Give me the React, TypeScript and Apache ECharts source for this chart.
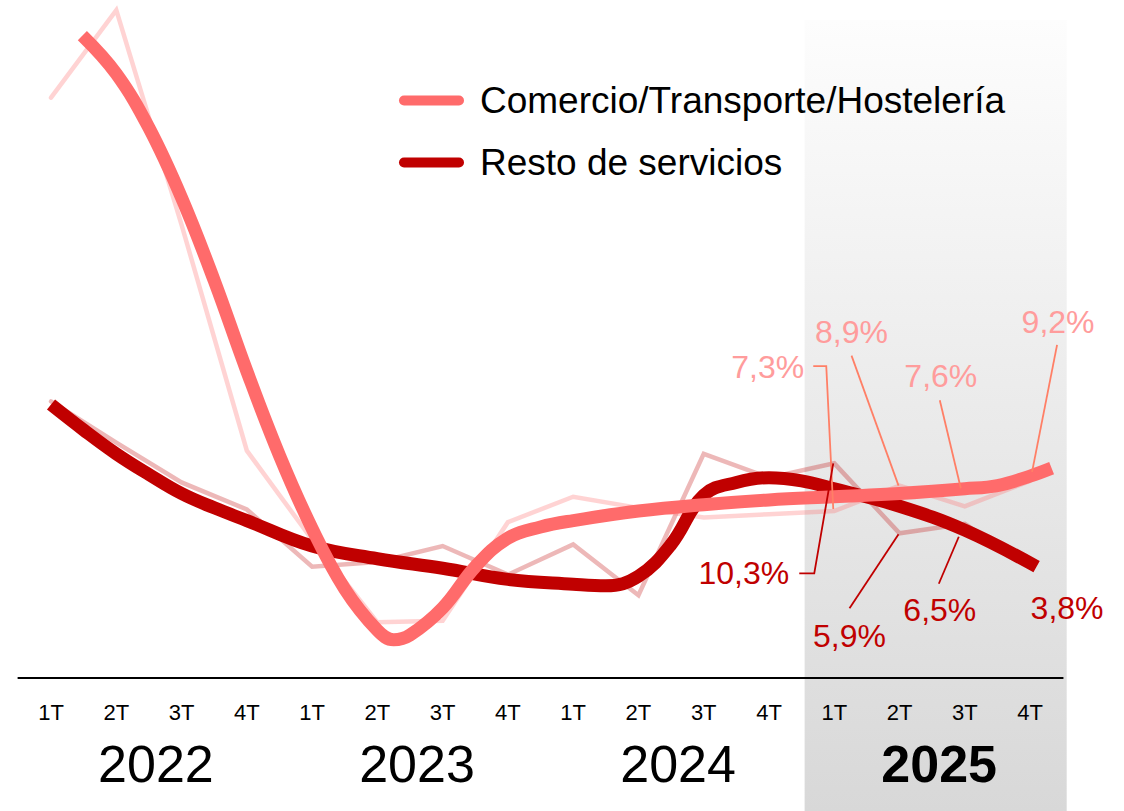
import React, { useEffect, useRef } from 'react';
import * as echarts from 'echarts';

const FONT = "'Liberation Sans', Arial, Helvetica, sans-serif";

// Categories
const quarterLabels = ['1T', '2T', '3T', '4T', '1T', '2T', '3T', '4T', '1T', '2T', '3T', '4T', '1T', '2T', '3T', '4T'];
const yearLabels = ['2022', '2023', '2024', '2025'];
const highlightYearIndex = 3;
const highlightStartQuarter = 12;

// Series names
const comercioName = 'Comercio/Transporte/Hostelería';
const restoName = 'Resto de servicios';

// Quarterly values (thin lines)
const comercioQuarterly = [33.3, 38.8, 25.3, 11.1, 5.5, 0.3, 0.4, 6.6, 8.2, 7.5, 6.9, 7.1, 7.3, 8.9, 7.6, 9.2];
const restoQuarterly = [14.2, 11.6, 9.1, 7.4, 3.8, 4.1, 5.1, 3.3, 5.2, 2.0, 10.9, 9.4, 10.3, 5.9, 6.5, 3.8];

// Trend values (thick lines), x in quarter index units
const comercioTrendX = [0.48, 1, 1.5, 2, 2.5, 3, 3.5, 4, 4.5, 5, 5.25, 5.5, 6, 6.5, 7, 7.5, 8, 9, 10, 11, 12, 13, 14, 14.5, 15, 15.33];
const comercioTrendY = [37.2, 34.8, 31.4, 27.0, 21.8, 16.1, 10.8, 6.2, 2.4, -0.2, -0.8, -0.5, 1.2, 3.8, 5.6, 6.3, 6.7, 7.3, 7.7, 8.0, 8.2, 8.4, 8.7, 8.9, 9.5, 10.0];
const restoTrendX = [0, 0.5, 1, 1.5, 2, 2.5, 3, 4, 5, 6, 7, 8, 8.5, 9, 9.5, 10, 10.5, 11, 11.5, 12, 13, 14, 15.1];
const restoTrendY = [14.0, 12.4, 10.9, 9.6, 8.4, 7.5, 6.7, 5.1, 4.3, 3.7, 3.0, 2.7, 2.6, 3.2, 5.2, 8.3, 9.1, 9.4, 9.2, 8.7, 7.6, 6.1, 3.8];

const fmtPct = (v: number) => v.toFixed(1).replace('.', ',') + '%';

// Label layout (offsets relative to the data point in pixels)
type LabelLayout = { dx: number; dy: number; align: string; line: number[][] | null };
const comercioLabelLayout: LabelLayout[] = [
  { dx: -30, dy: -144, align: 'right', line: [[-21, -145], [-8, -145], [-1, -2]] },
  { dx: -48, dy: -154, align: 'center', line: [[-48, -130], [-1, 0]] },
  { dx: -24, dy: -130, align: 'center', line: [[-25, -106], [-4, -18]] },
  { dx: 28, dy: -159, align: 'center', line: [[27, -136], [2, -9]] },
];
const restoLabelLayout: LabelLayout[] = [
  { dx: -45, dy: 110, align: 'right', line: [[-35, 110], [-20, 110], [-1, 0]] },
  { dx: -50, dy: 103, align: 'center', line: [[-50, 75], [-1, 1]] },
  { dx: -25, dy: 86, align: 'center', line: [[-26, 60], [-6, 13]] },
  { dx: 37, dy: 41, align: 'center', line: null },
];

const COMERCIO_COLOR = '#ff6b6b';
const RESTO_COLOR = '#c00000';

export default function App() {
  const ref = useRef<HTMLDivElement>(null);

  useEffect(() => {
    if (!ref.current) return;
    const chart = echarts.init(ref.current, undefined, { renderer: 'svg' });

    const option: any = {
      animation: false,
      backgroundColor: '#ffffff',
      grid: { left: 18.4, right: 61.3, top: 0, bottom: 133, containLabel: false },
      legend: {
        data: [{ name: comercioName }, { name: restoName }],
        orient: 'vertical',
        left: 399,
        top: 82,
        padding: 0,
        itemWidth: 65,
        itemHeight: 10,
        itemGap: 25,
        icon: 'path://M5 0H60A5 5 0 0 1 60 10H5A5 5 0 0 1 5 0Z',
        selectedMode: false,
        textStyle: { fontSize: 37, color: '#000', fontFamily: FONT, padding: [0, 0, 0, 11] },
      },
      xAxis: [
        {
          type: 'category',
          data: quarterLabels,
          position: 'bottom',
          boundaryGap: true,
          axisLine: { show: true, onZero: false, lineStyle: { color: '#000', width: 2 } },
          axisTick: { show: false },
          splitLine: { show: false },
          axisLabel: { interval: 0, fontSize: 22, color: '#000', fontFamily: FONT, margin: 23 },
        },
        { type: 'value', min: -0.5, max: 15.5, show: false, position: 'top' },
        {
          type: 'category',
          data: yearLabels,
          position: 'bottom',
          boundaryGap: true,
          axisLine: { show: false, onZero: false },
          axisTick: { show: false },
          splitLine: { show: false },
          axisLabel: {
            interval: 0,
            margin: 60,
            padding: [0, 0, 0, 14],
            formatter: (v: string, i: number) => (i === highlightYearIndex ? `{b|${v}}` : `{n|${v}}`),
            rich: {
              n: { fontSize: 52, color: '#000', fontFamily: FONT },
              b: { fontSize: 52, color: '#000', fontFamily: FONT, fontWeight: 'bold' },
            },
          },
        },
      ],
      yAxis: { type: 'value', min: -3.2, max: 39.44, show: false },
      series: [
        {
          name: 'Resto trimestral',
          type: 'line',
          xAxisIndex: 1,
          data: restoQuarterly.map((v, i) => [i, v]),
          symbol: 'none',
          silent: true,
          z: 1,
          lineStyle: { color: 'rgba(192,0,0,0.28)', width: 4.5, join: 'miter', cap: 'round' },
        },
        {
          name: 'Comercio trimestral',
          type: 'line',
          xAxisIndex: 1,
          data: comercioQuarterly.map((v, i) => [i, v]),
          symbol: 'none',
          silent: true,
          z: 1,
          lineStyle: { color: 'rgba(255,110,110,0.3)', width: 4.5, join: 'miter', cap: 'round' },
        },
        {
          name: restoName,
          type: 'line',
          xAxisIndex: 1,
          data: restoTrendX.map((x, i) => [x, restoTrendY[i]]),
          symbol: 'none',
          smooth: 0.4,
          silent: true,
          z: 3,
          color: RESTO_COLOR,
          itemStyle: { color: RESTO_COLOR },
          lineStyle: { color: RESTO_COLOR, width: 13, cap: 'butt' },
        },
        {
          name: comercioName,
          type: 'line',
          xAxisIndex: 1,
          data: comercioTrendX.map((x, i) => [x, comercioTrendY[i]]),
          symbol: 'none',
          smooth: 0.4,
          silent: true,
          z: 4,
          color: COMERCIO_COLOR,
          itemStyle: { color: COMERCIO_COLOR },
          lineStyle: { color: COMERCIO_COLOR, width: 13, cap: 'butt' },
        },
      ],
    };

    chart.setOption(option);

    const toPx = (x: number, y: number): number[] =>
      chart.convertToPixel({ xAxisIndex: 1, yAxisIndex: 0 }, [x, y]) as number[];

    const elements: any[] = [];
    const bandLeft = toPx(highlightStartQuarter - 0.5, 0)[0] + 3;
    const bandRight = toPx(quarterLabels.length - 0.5, 0)[0] + 4;
    elements.push({
      type: 'rect',
      z: -10,
      silent: true,
      shape: { x: bandLeft, y: 20, width: bandRight - bandLeft, height: 811 - 20 },
      style: {
        fill: new echarts.graphic.LinearGradient(0, 0, 0, 1, [
          { offset: 0, color: '#fdfdfd' },
          { offset: 1, color: '#d8d8d8' },
        ]),
      },
    });

    const addLabels = (values: number[], layouts: LabelLayout[], textColor: string, lineColor: string) => {
      layouts.forEach((lay, k) => {
        const qi = highlightStartQuarter + k;
        const [px, py] = toPx(qi, values[qi]);
        if (lay.line) {
          elements.push({
            type: 'polyline',
            z: 20,
            silent: true,
            shape: { points: lay.line.map((p) => [px + p[0], py + p[1]]) },
            style: { stroke: lineColor, lineWidth: 1.8, fill: null },
          });
        }
        elements.push({
          type: 'text',
          z: 21,
          silent: true,
          x: px + lay.dx,
          y: py + lay.dy,
          style: {
            text: fmtPct(values[qi]),
            fill: textColor,
            fontSize: 32,
            fontFamily: FONT,
            align: lay.align,
            verticalAlign: 'middle',
          },
        });
      });
    };
    addLabels(comercioQuarterly, comercioLabelLayout, '#ff9c9c', '#ff7f66');
    addLabels(restoQuarterly, restoLabelLayout, '#c00000', '#c00000');

    chart.setOption({ graphic: { elements } });

    return () => {
      chart.dispose();
    };
  }, []);

  return (
    <div
      ref={ref}
      style={{ position: 'fixed', left: 0, top: 0, width: 1124, height: 811, background: '#fff' }}
    />
  );
}
